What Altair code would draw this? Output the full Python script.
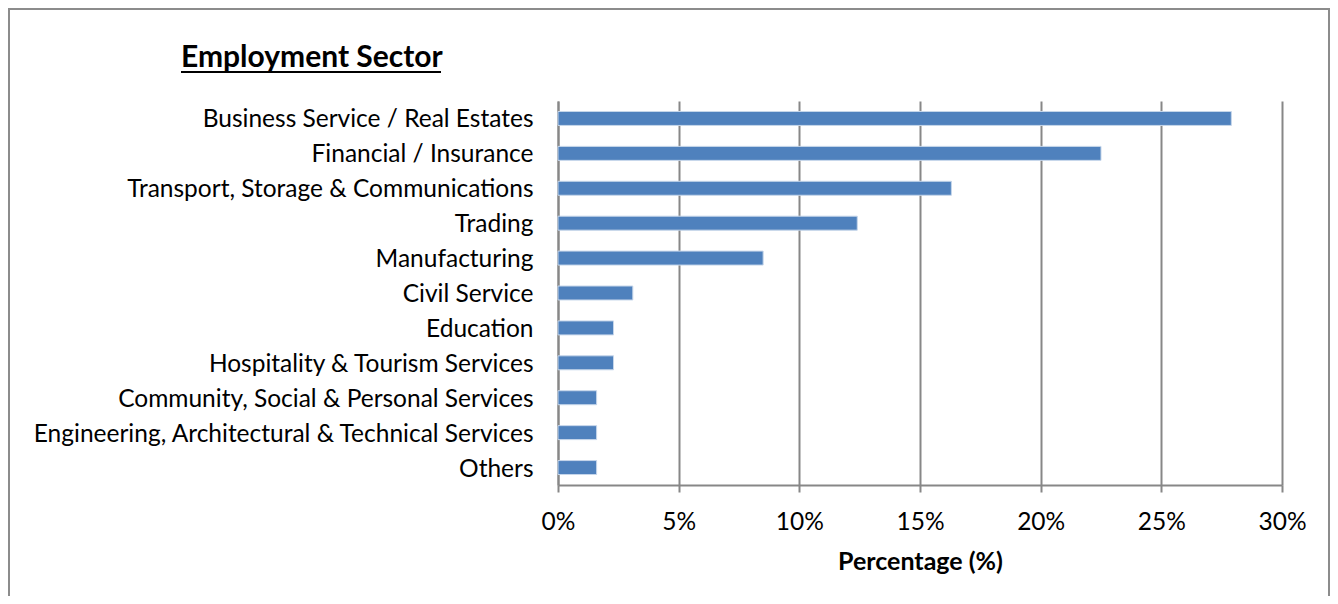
import altair as alt
import pandas as pd

categories = [
    "Business Service / Real Estates",
    "Financial / Insurance",
    "Transport, Storage & Communications",
    "Trading",
    "Manufacturing",
    "Civil Service",
    "Education",
    "Hospitality & Tourism Services",
    "Community, Social & Personal Services",
    "Engineering, Architectural & Technical Services",
    "Others",
]
values = [27.9, 22.5, 16.3, 12.4, 8.5, 3.1, 2.3, 2.3, 1.6, 1.6, 1.6]
x_ticks = [0, 5, 10, 15, 20, 25, 30]
chart_title = "Employment Sector"
x_title = "Percentage (%)"

df = pd.DataFrame({"sector": categories, "pct": values})

FONT = "Lato"
GRID = "#878787"

bars = alt.Chart(df).mark_bar(color="#4f81bd", stroke="#c6d6ea", strokeWidth=1).encode(
    x=alt.X("pct:Q",
            scale=alt.Scale(domain=[0, 30], nice=False),
            axis=alt.Axis(values=x_ticks, labelExpr="datum.value + '%'", title=x_title,
                          grid=True, gridColor=GRID, gridWidth=2,
                          domainColor=GRID, domainWidth=2,
                          tickColor=GRID, tickWidth=2, tickSize=7,
                          labelFlush=False,
                          labelFont=FONT, labelFontSize=24.5, labelColor="black", labelPadding=18,
                          titleFont=FONT, titleFontSize=25, titleFontWeight="bold",
                          titleColor="black", titlePadding=16)),
    y=alt.Y("sector:N", sort=categories,
            scale=alt.Scale(paddingInner=0.6, paddingOuter=0.3),
            axis=alt.Axis(title=None, ticks=False, labelPadding=25, labelOffset=2,
                          labelFont=FONT, labelFontSize=24.5, labelColor="black",
                          domainColor=GRID, domainWidth=2, labelLimit=600)),
)

one = pd.DataFrame({"t": [chart_title]})

title_text = alt.Chart(one).mark_text(
    font=FONT, fontSize=30, fontWeight="bold", color="black", align="left", baseline="alphabetic"
).encode(text="t:N", x=alt.value(-377), y=alt.value(-34))

underline = alt.Chart(one).mark_rule(color="black", strokeWidth=2).encode(
    x=alt.value(-377), x2=alt.value(-117), y=alt.value(-29)
)

frame = alt.Chart(one).mark_rect(fill=None, stroke="#8c8c8c", strokeWidth=2, clip=False).encode(
    x=alt.value(-549), x2=alt.value(771), y=alt.value(-92), y2=alt.value(640)
)

chart = alt.layer(frame, bars, title_text, underline).properties(
    width=724, height=384,
    autosize=alt.AutoSizeParams(type="none"),
    padding={"left": 550, "top": 93, "right": 48, "bottom": 111},
).configure_view(stroke=None)

chart.save("out.html", embed_options={"renderer": "svg", "actions": False})
